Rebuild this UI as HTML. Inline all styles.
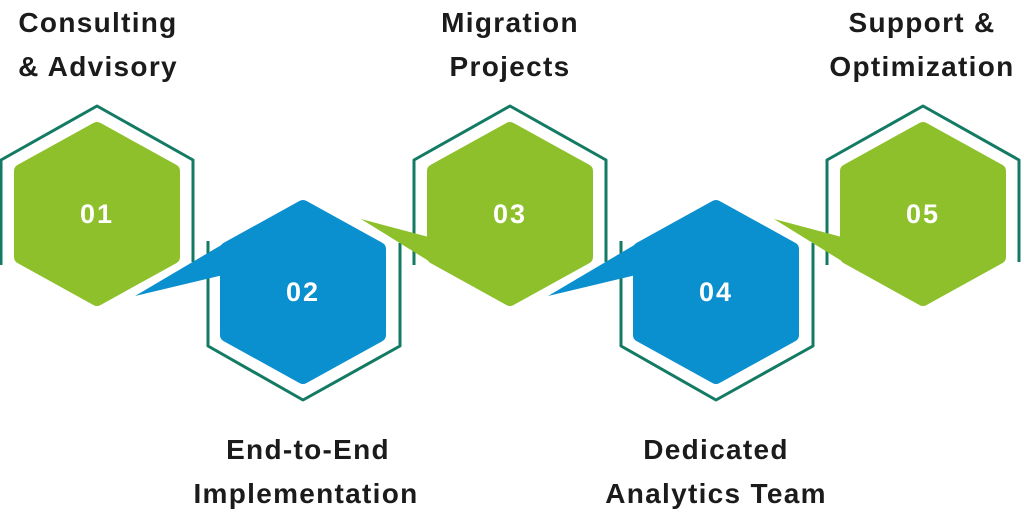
<!DOCTYPE html>
<html><head><meta charset="utf-8"><style>
html,body{margin:0;padding:0;background:#fff;width:1024px;height:516px;overflow:hidden}
svg{display:block}
.t{font-family:"Liberation Sans",sans-serif;font-size:28px;font-weight:bold;fill:#1b1b1b;letter-spacing:1.3px;text-anchor:middle}
.n{font-family:"Liberation Sans",sans-serif;font-size:27px;font-weight:bold;fill:#fff;letter-spacing:2px;text-anchor:middle}
</style></head><body>
<svg width="1024" height="516" viewBox="0 0 1024 516" xmlns="http://www.w3.org/2000/svg">
<defs>
<g id="hexfill"><polygon points="0,-85 76,-43 76,43 0,85 -76,43 -76,-43" stroke-linejoin="round" stroke-width="14"/></g>
</defs>
<g fill="none" stroke="#137a63" stroke-width="3" stroke-linejoin="round">
<path d="M1,265 L1,160 L97,106 L193,160 L193,262"/>
<path d="M414,265 L414,160 L510,106 L606,160 L606,262"/>
<path d="M827,265 L827,160 L923,106 L1019,160 L1019,262"/>
<path d="M208,241 L208,346 L303,400 L400,346 L400,243"/>
<path d="M621,241 L621,346 L716,400 L813,346 L813,243"/>
</g>
<polygon points="135,296 240,234 240,271" fill="#0a8fcf"/>
<polygon points="548,296 653,234 653,271" fill="#0a8fcf"/>
<polygon points="361,219 440,268 440,240" fill="#8dc02a"/>
<polygon points="774,219 853,268 853,240" fill="#8dc02a"/>
<use href="#hexfill" x="97" y="214" fill="#8dc02a" stroke="#8dc02a"/>
<use href="#hexfill" x="510" y="214" fill="#8dc02a" stroke="#8dc02a"/>
<use href="#hexfill" x="923" y="214" fill="#8dc02a" stroke="#8dc02a"/>
<use href="#hexfill" x="303" y="292" fill="#0a8fcf" stroke="#0a8fcf"/>
<use href="#hexfill" x="716" y="292" fill="#0a8fcf" stroke="#0a8fcf"/>
<text class="n" x="97" y="223">01</text>
<text class="n" x="303" y="301">02</text>
<text class="n" x="510" y="223">03</text>
<text class="n" x="716" y="301">04</text>
<text class="n" x="923" y="223">05</text>
<text class="t" x="98" y="32">Consulting</text>
<text class="t" x="98" y="76">&amp; Advisory</text>
<text class="t" x="510" y="32">Migration</text>
<text class="t" x="510" y="76">Projects</text>
<text class="t" x="922" y="32">Support &amp;</text>
<text class="t" x="922" y="76">Optimization</text>
<text class="t" x="308" y="459">End-to-End</text>
<text class="t" x="306" y="503">Implementation</text>
<text class="t" x="716" y="459">Dedicated</text>
<text class="t" x="716" y="503">Analytics Team</text>
</svg>
</body></html>
